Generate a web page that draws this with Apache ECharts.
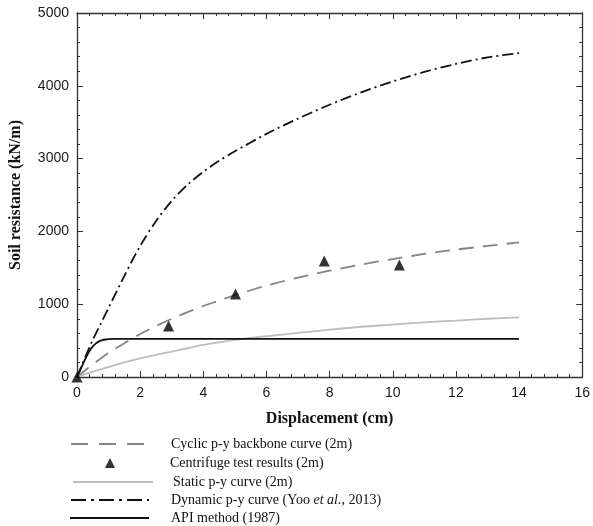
<!DOCTYPE html>
<html>
<head>
<meta charset="utf-8">
<script src="https://cdn.jsdelivr.net/npm/echarts@6/dist/echarts.min.js"></script>
<style>html,body{margin:0;padding:0;background:#fff;}#c{width:593px;height:526px;}</style>
</head>
<body>
<div id="c"></div>
<script>
// Displacement samples (cm)
var xs = [0, 0.25, 0.5, 0.75, 1, 1.5, 2, 2.5, 3, 3.5, 4, 4.5, 5, 6, 7, 8, 9, 10, 11, 12, 13, 14];
// Soil resistance (kN/m)
var cyclic  = [0, 90, 175, 255, 330, 465, 590, 700, 800, 890, 975, 1050, 1125, 1255, 1365, 1460, 1545, 1620, 1690, 1750, 1800, 1850];
var statics = [0, 40, 75, 105, 135, 200, 255, 305, 350, 395, 440, 475, 510, 560, 605, 650, 690, 720, 750, 775, 800, 820];
var dynamic = [0, 260, 510, 730, 950, 1390, 1800, 2140, 2420, 2640, 2820, 2970, 3100, 3340, 3550, 3740, 3910, 4060, 4190, 4300, 4390, 4450];
var apiX = [0, 0.1, 0.2, 0.3, 0.4, 0.5, 0.6, 0.7, 0.8, 0.9, 1.0, 1.2, 14];
var apiY = [0, 95, 190, 280, 360, 420, 462, 490, 506, 515, 520, 523, 523];
var testX = [0, 2.9, 5.02, 7.83, 10.21];
var testY = [0, 700, 1140, 1592, 1540];

var names = ['Cyclic p-y backbone curve (2m)', 'Centrifuge test results (2m)', 'Static p-y curve (2m)', 'Dynamic p-y curve (Yoo et al., 2013)', 'API method (1987)'];

function pairs(a, b) { return a.map(function (v, i) { return [v, b[i]]; }); }

var chart = echarts.init(document.getElementById('c'));
var axisLine = { show: true, onZero: false, lineStyle: { color: '#333', width: 1.3 } };
var tick = { show: true, inside: true, length: 6, lineStyle: { color: '#333' } };
var minor = { show: true, splitNumber: 5, length: 3, lineStyle: { color: '#333' } };
var labelFont = { fontFamily: 'Liberation Sans, Arial, sans-serif', fontSize: 14, color: '#1a1a1a' };
var serif = 'Liberation Serif, Times New Roman, serif';
var rowCenters = [444, 463, 482, 500, 518];
var legLeft = [70, 105, 72, 70, 69];
var legWidth = [73, 10, 80, 78, 79];
var legPad = [22, 50, 15, 17, 17];
var legDash = [[17, 11], 'inherit', 'inherit', [15, 5, 3, 5], 'inherit'];

var legends = names.map(function (n, i) {
  var isScatter = (i === 1);
  return {
    orient: 'vertical',
    padding: 0,
    left: legLeft[i],
    top: rowCenters[i] - 8,
    itemWidth: legWidth[i],
    itemHeight: 10,
    data: [n],
    itemStyle: isScatter ? {} : { opacity: 0 },
    lineStyle: { type: legDash[i] },
    formatter: function (name) {
      if (name.indexOf('et al.') >= 0) return 'Dynamic p-y curve (Yoo {i|et al.}, 2013)';
      return name;
    },
    textStyle: {
      fontFamily: serif, fontSize: 14, color: '#111', lineHeight: 16,
      padding: [0, 0, 0, legPad[i]],
      rich: { i: { fontStyle: 'italic', fontFamily: serif, fontSize: 14, color: '#111' } }
    }
  };
});

var option = {
  animation: false,
  backgroundColor: '#fff',
  grid: { left: 76, right: 8, top: 13, bottom: 149 },
  legend: legends,
  xAxis: [{
    type: 'value', min: 0, max: 16, interval: 2,
    name: 'Displacement (cm)', nameLocation: 'middle', nameGap: 34,
    nameTextStyle: { fontFamily: serif, fontWeight: 'bold', fontSize: 16, color: '#111' },
    axisLine: axisLine, axisTick: tick, minorTick: minor,
    axisLabel: Object.assign({ margin: 9 }, labelFont),
    splitLine: { show: false }
  }, {
    type: 'value', min: 0, max: 16, interval: 2, position: 'top',
    axisLine: axisLine, axisTick: tick, minorTick: minor,
    axisLabel: { show: false }, splitLine: { show: false }
  }],
  yAxis: [{
    type: 'value', min: 0, max: 5000, interval: 1000,
    name: 'Soil resistance (kN/m)', nameLocation: 'middle', nameGap: 53,
    nameTextStyle: { fontFamily: serif, fontWeight: 'bold', fontSize: 16, color: '#111' },
    axisLine: axisLine, axisTick: tick, minorTick: minor,
    axisLabel: Object.assign({ margin: 8, formatter: function (v) { return String(v); } }, labelFont),
    splitLine: { show: false }
  }, {
    type: 'value', min: 0, max: 5000, interval: 1000, position: 'right',
    axisLine: axisLine, axisTick: tick, minorTick: minor,
    axisLabel: { show: false }, splitLine: { show: false }
  }],
  series: [
    { name: names[0], type: 'line', smooth: 0.3, showSymbol: false, symbol: 'none',
      data: pairs(xs, cyclic), lineStyle: { color: '#858585', width: 1.8, type: [15, 9] }, itemStyle: { color: '#858585' } },
    { name: names[1], type: 'scatter', symbol: 'triangle', symbolSize: 11,
      data: pairs(testX, testY), itemStyle: { color: '#000' }, z: 5 },
    { name: names[2], type: 'line', smooth: 0.3, showSymbol: false, symbol: 'none',
      data: pairs(xs, statics), lineStyle: { color: '#bdbdbd', width: 1.8 }, itemStyle: { color: '#bdbdbd' } },
    { name: names[3], type: 'line', smooth: 0.3, showSymbol: false, symbol: 'none',
      data: pairs(xs, dynamic), lineStyle: { color: '#111', width: 1.8, type: [11, 4, 2, 4] }, itemStyle: { color: '#111' } },
    { name: names[4], type: 'line', smooth: 0.3, showSymbol: false, symbol: 'none',
      data: pairs(apiX, apiY), lineStyle: { color: '#111', width: 1.8 }, itemStyle: { color: '#111' } }
  ]
};
chart.setOption(option);
</script>
</body>
</html>
